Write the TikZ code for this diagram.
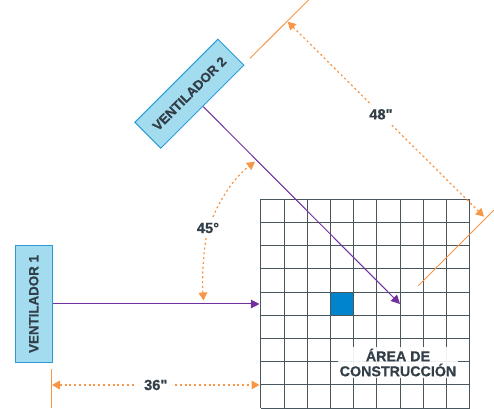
\documentclass[tikz,border=0pt]{standalone}
\usepackage{fontspec}
\setmainfont[BoldFeatures={FakeBold=0.6}]{Liberation Sans}
\newfontfamily\dimfont[BoldFeatures={FakeBold=0.6}]{Liberation Sans}
\usetikzlibrary{arrows.meta}
\definecolor{ventfill}{HTML}{A4DCEF}
\definecolor{ventline}{HTML}{2A9BD5}
\definecolor{flow}{HTML}{7030A0}
\definecolor{dim}{HTML}{F79646}
\definecolor{inktext}{HTML}{333F48}
\definecolor{gridc}{HTML}{4A565E}
\definecolor{cellblue}{HTML}{0085CC}
\tikzset{
  x=0.75pt,y=-0.75pt,
  vent/.style={draw=ventline,fill=ventfill,line width=0.7pt,minimum width=117.5*0.75pt,minimum height=36.7*0.75pt,inner sep=0pt,
    font=\bfseries\fontsize{10}{11}\selectfont,text=inktext},
  flowline/.style={draw=flow,line width=0.75pt,-{Triangle[length=6.5pt,width=6.5pt]}},
  dimline/.style={draw=dim,line width=0.9pt,dash pattern=on 1.6pt off 2pt,{Triangle[length=6pt,width=6.5pt]}-{Triangle[length=6pt,width=6.5pt]}},
  halfdim/.style={draw=dim,line width=0.9pt,dash pattern=on 1.6pt off 2pt,-{Triangle[length=6pt,width=6.5pt]}},
  refline/.style={draw=dim,line width=0.7pt},
  dimlabel/.style={font=\dimfont\bfseries\fontsize{11}{12}\selectfont,text=inktext,fill=white,inner sep=1pt},
  gridline/.style={draw=gridc,line width=0.75pt},
  arealabel/.style={font=\bfseries\fontsize{10.7}{11.25}\selectfont,text=inktext,fill=white,fill opacity=0.9,text opacity=1,inner xsep=1pt,inner ysep=1.5pt}
}
\begin{document}
\begin{tikzpicture}
\useasboundingbox (0,0) rectangle (494,409);
% grid
\fill[cellblue] (330.7,292.7) rectangle (353.8,315.9);
\foreach \i in {0,...,9}{
  \draw[gridline] ({260.8+23.2*\i},199.3) -- ({260.8+23.2*\i},408);
  \draw[gridline] (260.8,{199.3+23.19*\i}) -- (469.6,{199.3+23.19*\i});
}
% nodes
\node[vent,rotate=90] (v1) at (33.7,304) {VENTILADOR 1};
\node[vent,rotate=45] (v2) at (189.4,93.7) {VENTILADOR 2};
\node[arealabel,align=center] (area) at (398,362.5) {ÁREA DE\\CONSTRUCCIÓN};
% coordinates
\coordinate (f1) at (259.5,304);
\coordinate (f2s) at (203.3,106.7);
\coordinate (f2) at (400,304);
\coordinate (r1a) at (250,58.3);
\coordinate (r1b) at (308.5,0);
\coordinate (r2a) at (418.3,285.7);
\coordinate (r2b) at (494,210);
\coordinate (r3a) at (51.7,369.5);
\coordinate (r3b) at (51.7,408.5);
\coordinate (d36a) at (52,385);
\coordinate (d36b) at (259.5,385);
\coordinate (d48a) at (287.7,21.7);
\coordinate (d48b) at (484,216.7);
% connectors
\draw[flowline] (v1.south) -- (f1);
\draw[flowline] (f2s) -- (f2);
\draw[refline] (r1a) -- (r1b);
\draw[refline] (r2a) -- (r2b);
\draw[refline] (r3a) -- (r3b);
\draw[dimline] (d36a) -- node[dimlabel,inner xsep=5pt] {36"} (d36b);
\draw[dimline] (d48a) -- node[dimlabel,pos=0.475,inner xsep=3pt,inner ysep=3pt] {48"} (d48b);
\coordinate (a45t) at (255,161.7);
\coordinate (a45m) at (213,217);
\coordinate (a45n) at (206,238);
\coordinate (a45b) at (203.5,300.5);
\node[dimlabel,fill=none] (l45) at (208,228) {45°};
\draw[halfdim] (a45m) .. controls (221,197) and (236,176) .. (a45t);
\draw[halfdim] (a45n) .. controls (203,258) and (202,280) .. (a45b);
\end{tikzpicture}
\end{document}
